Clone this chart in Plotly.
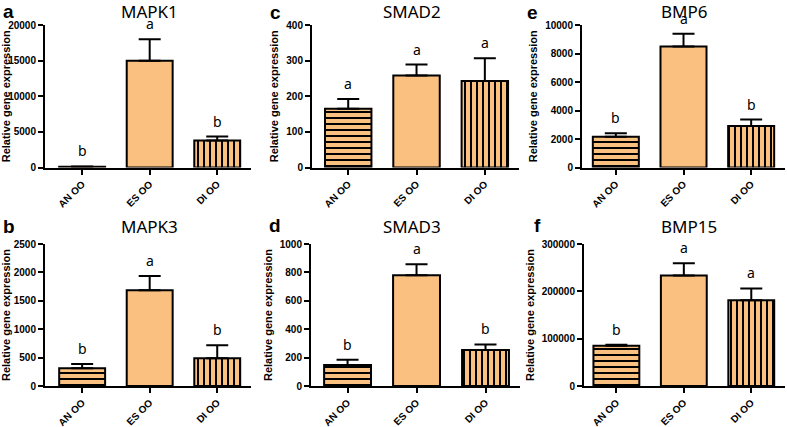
import plotly.graph_objects as go

W, H = 787, 427

categories = ["AN OO", "ES OO", "DI OO"]

genes = ["MAPK1", "SMAD2", "BMP6", "MAPK3", "SMAD3", "BMP15"]
panel_letters = ["a", "c", "e", "b", "d", "f"]

mapk1_mean = [100, 15000, 3800]
mapk1_err = [40, 3000, 550]
mapk1_sig = ["b", "a", "b"]
mapk1_ticks = [0, 5000, 10000, 15000, 20000]

smad2_mean = [165, 258, 243]
smad2_err = [27, 31, 64]
smad2_sig = ["a", "a", "a"]
smad2_ticks = [0, 100, 200, 300, 400]

bmp6_mean = [2150, 8500, 2920]
bmp6_err = [250, 890, 440]
bmp6_sig = ["b", "a", "b"]
bmp6_ticks = [0, 2000, 4000, 6000, 8000, 10000]

mapk3_mean = [311, 1685, 487]
mapk3_err = [76, 250, 230]
mapk3_sig = ["b", "a", "b"]
mapk3_ticks = [0, 500, 1000, 1500, 2000, 2500]

smad3_mean = [148, 780, 253]
smad3_err = [37, 77, 40]
smad3_sig = ["b", "a", "b"]
smad3_ticks = [0, 200, 400, 600, 800, 1000]

bmp15_mean = [85000, 233500, 181000]
bmp15_err = [2000, 26000, 25000]
bmp15_sig = ["b", "a", "a"]
bmp15_ticks = [0, 100000, 200000, 300000]

means = [mapk1_mean, smad2_mean, bmp6_mean, mapk3_mean, smad3_mean, bmp15_mean]
errs = [mapk1_err, smad2_err, bmp6_err, mapk3_err, smad3_err, bmp15_err]
sigs = [mapk1_sig, smad2_sig, bmp6_sig, mapk3_sig, smad3_sig, bmp15_sig]
ticks = [mapk1_ticks, smad2_ticks, bmp6_ticks, mapk3_ticks, smad3_ticks, bmp15_ticks]

# layout geometry (pixels): x-domain left/right, y top/bottom
xdom_px = [(45, 251), (312, 519), (582, 785), (45, 251), (311, 520), (584, 785)]
xrange_ = [(-0.55, 2.5), (-0.53, 2.5), (-0.5, 2.5), (-0.55, 2.5), (-0.53, 2.5), (-0.48, 2.5)]
ydom_px = [(25, 167.5)] * 3 + [(244, 386)] * 3
title_px = [(149, 11), (412, 11), (684, 11), (149, 226), (412, 226), (689, 226)]
letter_px = [(1, 11), (268, 12), (525, 12), (1, 226), (267, 225), (532, 225)]

ORANGE = "#FAC080"
patterns = ["-", "", "|"]
FONT_ARIAL = "Liberation Sans, Arial, sans-serif"

fig = go.Figure()
layout = dict(
    width=W, height=H,
    margin=dict(l=0, r=0, t=0, b=0, autoexpand=False),
    paper_bgcolor="white", plot_bgcolor="white",
    showlegend=False, bargap=0.32,
    annotations=[],
)

for i in range(6):
    k = "" if i == 0 else str(i + 1)
    fig.add_trace(go.Bar(
        x=categories, y=means[i],
        xaxis="x" + k, yaxis="y" + k,
        marker=dict(
            color=ORANGE,
            line=dict(color="black", width=2),
            pattern=dict(shape=patterns, fgcolor="black", bgcolor=ORANGE,
                         size=6, solidity=0.33, fillmode="replace"),
        ),
        error_y=dict(type="data", array=errs[i], arrayminus=[0, 0, 0],
                     symmetric=False, color="black", thickness=2, width=11),
    ))
    x0, x1 = xdom_px[i]
    yt, yb = ydom_px[i]
    layout["xaxis" + k] = dict(
        domain=[x0 / W, x1 / W], anchor="y" + k,
        range=list(xrange_[i]), showline=True, linecolor="black", linewidth=2,
        ticks="outside", ticklen=5, tickwidth=2, tickcolor="black",
        showgrid=False, zeroline=False, fixedrange=True, automargin=False,
    )
    layout["yaxis" + k] = dict(
        domain=[1 - yb / H, 1 - yt / H], anchor="x" + k,
        range=[0, ticks[i][-1]], tickvals=ticks[i],
        ticktext=[str(t) for t in ticks[i]],
        showline=True, linecolor="black", linewidth=2,
        ticks="outside", ticklen=5, tickwidth=2, tickcolor="black",
        tickfont=dict(family=FONT_ARIAL, size=10, color="black", weight="bold"),
        showgrid=False, zeroline=False, automargin=False, fixedrange=True,
        title=dict(text="Relative gene expression", standoff=5,
                   font=dict(family=FONT_ARIAL, size=11, color="black", weight="bold")),
    )
    for c, m, e, s in zip(categories, means[i], errs[i], sigs[i]):
        layout["annotations"].append(dict(
            x=c, y=m + e, xref="x" + k, yref="y" + k, text=s, showarrow=False,
            yanchor="bottom", yshift=4,
            font=dict(family="Noto Sans, sans-serif", size=14, color="black"),
        ))
    tx, ty = title_px[i]
    layout["annotations"].append(dict(
        x=tx / W, y=1 - ty / H, xref="paper", yref="paper", text=genes[i],
        showarrow=False, xanchor="center", yanchor="middle",
        font=dict(family="Noto Sans, sans-serif", size=17, color="black"),
    ))
    lx, ly = letter_px[i]
    layout["annotations"].append(dict(
        x=lx / W, y=1 - ly / H, xref="paper", yref="paper", text=panel_letters[i],
        showarrow=False, xanchor="left", yanchor="middle",
        font=dict(family=FONT_ARIAL, size=19, color="black", weight="bold"),
    ))

fig.update_layout(**layout)
fig.update_xaxes(tickangle=-45,
                 tickfont=dict(family=FONT_ARIAL, size=10, color="black", weight="bold"))
fig.write_html("out.html", config={"displayModeBar": False},
               post_script="document.body.style.margin='0';document.body.style.padding='0';")
